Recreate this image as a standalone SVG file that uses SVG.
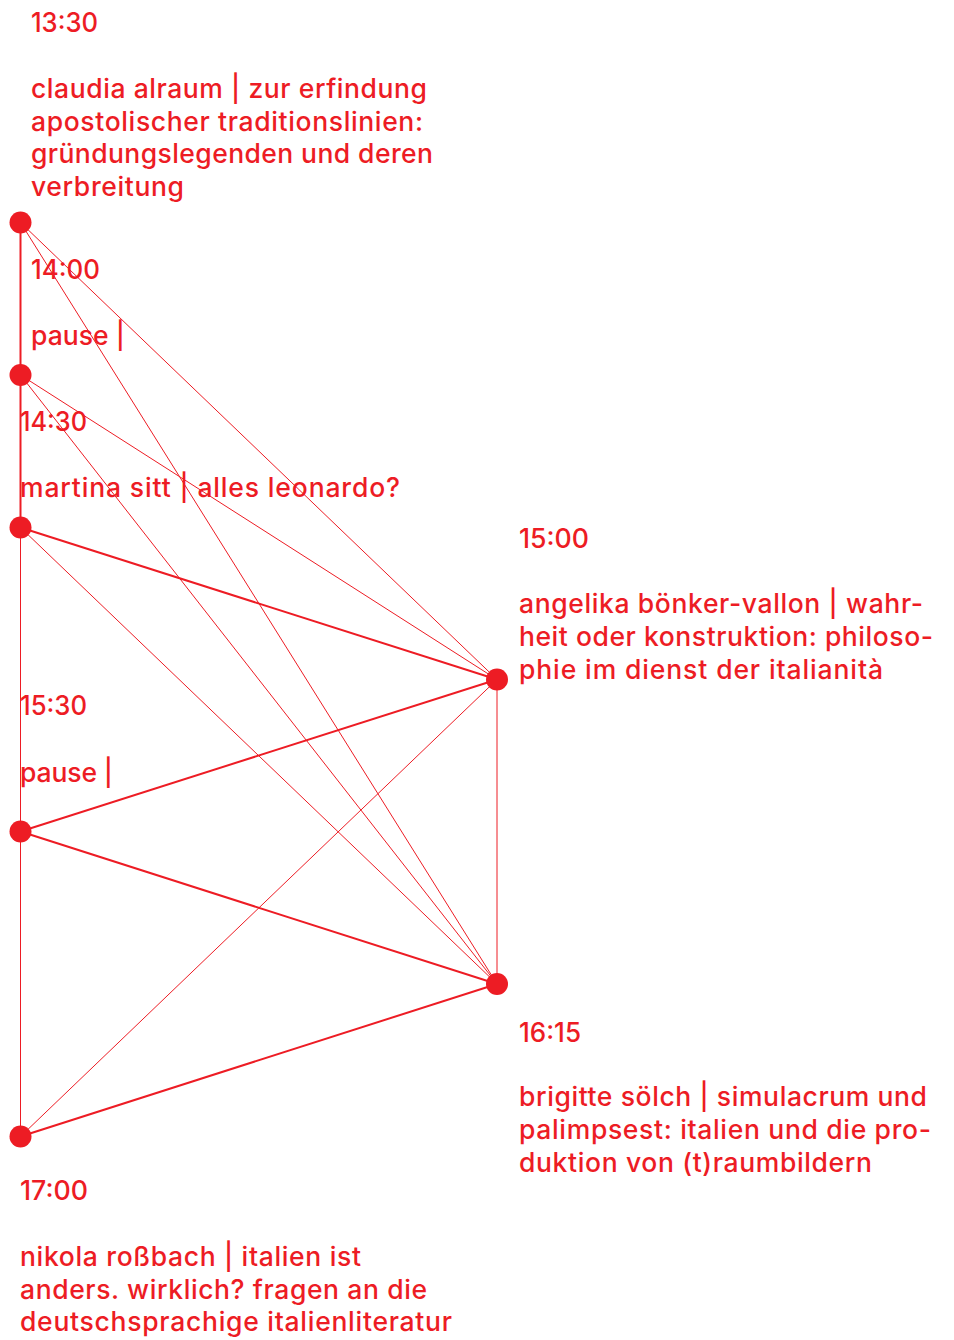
<svg xmlns="http://www.w3.org/2000/svg" width="954" height="1340" viewBox="0 0 954 1340">
<style>
.t{font-family:Inter,"Open Sans","Liberation Sans",sans-serif;font-size:26.5px;font-weight:500;fill:#ed1c24;}
.thin{stroke:#ed1c24;stroke-width:1;fill:none;}
.thick{stroke:#ed1c24;stroke-width:2;fill:none;}
.n{fill:#ed1c24;}
</style>
<rect width="954" height="1340" fill="#fff"/>
<g id="connectors">
<line class="thick" x1="20.5" y1="222.5" x2="20.5" y2="375"/>
<line class="thick" x1="20.5" y1="375" x2="20.5" y2="527.5"/>
<line class="thin" x1="20.5" y1="527.5" x2="20.5" y2="831.5"/>
<line class="thin" x1="20.5" y1="831.5" x2="20.5" y2="1136.5"/>
<line class="thin" x1="20.5" y1="222.5" x2="497" y2="679.5"/>
<line class="thin" x1="20.5" y1="222.5" x2="497" y2="984"/>
<line class="thin" x1="20.5" y1="375" x2="497" y2="679.5"/>
<line class="thin" x1="20.5" y1="375" x2="497" y2="984"/>
<line class="thick" x1="20.5" y1="527.5" x2="497" y2="679.5"/>
<line class="thin" x1="20.5" y1="527.5" x2="497" y2="984"/>
<line class="thick" x1="20.5" y1="831.5" x2="497" y2="679.5"/>
<line class="thick" x1="20.5" y1="831.5" x2="497" y2="984"/>
<line class="thin" x1="20.5" y1="1136.5" x2="497" y2="679.5"/>
<line class="thick" x1="20.5" y1="1136.5" x2="497" y2="984"/>
<line class="thin" x1="497" y1="679.5" x2="497" y2="984"/>
</g>
<g id="n1330">
<circle class="n" cx="20.5" cy="222.5" r="11"/>
<text class="t" x="31" y="32" textLength="67" lengthAdjust="spacingAndGlyphs">13:30</text>
<text class="t" x="31" y="98" textLength="396">claudia alraum | zur erfindung</text>
<text class="t" x="31" y="130.5" textLength="392">apostolischer traditionslinien:</text>
<text class="t" x="31" y="163" textLength="402">gründungslegenden und deren</text>
<text class="t" x="31" y="195.5" textLength="153">verbreitung</text>
</g>
<g id="n1400">
<circle class="n" cx="20.5" cy="375" r="11"/>
<text class="t" x="31" y="279" textLength="69" lengthAdjust="spacingAndGlyphs">14:00</text>
<text class="t" x="31" y="345" textLength="94">pause |</text>
</g>
<g id="n1430">
<circle class="n" cx="20.5" cy="527.5" r="11"/>
<text class="t" x="20" y="431" textLength="67" lengthAdjust="spacingAndGlyphs">14:30</text>
<text class="t" x="20" y="497" textLength="380">martina sitt | alles leonardo?</text>
</g>
<g id="n1500">
<circle class="n" cx="497" cy="679.5" r="11"/>
<text class="t" x="519" y="548" textLength="70" lengthAdjust="spacingAndGlyphs">15:00</text>
<text class="t" x="519" y="613" textLength="404">angelika bönker-vallon | wahr-</text>
<text class="t" x="519" y="646" textLength="414">heit oder konstruktion: philoso-</text>
<text class="t" x="519" y="679" textLength="364">phie im dienst der italianità</text>
</g>
<g id="n1530">
<circle class="n" cx="20.5" cy="831.5" r="11"/>
<text class="t" x="20" y="715" textLength="67" lengthAdjust="spacingAndGlyphs">15:30</text>
<text class="t" x="20" y="782" textLength="93">pause |</text>
</g>
<g id="n1615">
<circle class="n" cx="497" cy="984" r="11"/>
<text class="t" x="519" y="1042" textLength="62" lengthAdjust="spacingAndGlyphs">16:15</text>
<text class="t" x="519" y="1106" textLength="408">brigitte sölch | simulacrum und</text>
<text class="t" x="519" y="1139" textLength="412">palimpsest: italien und die pro-</text>
<text class="t" x="519" y="1172" textLength="353">duktion von (t)raumbildern</text>
</g>
<g id="n1700">
<circle class="n" cx="20.5" cy="1136.5" r="11"/>
<text class="t" x="20" y="1200" textLength="68" lengthAdjust="spacingAndGlyphs">17:00</text>
<text class="t" x="20" y="1266" textLength="341">nikola roßbach | italien ist</text>
<text class="t" x="20" y="1298.5" textLength="407">anders. wirklich? fragen an die</text>
<text class="t" x="20" y="1331" textLength="432">deutschsprachige italienliteratur</text>
</g>
</svg>
